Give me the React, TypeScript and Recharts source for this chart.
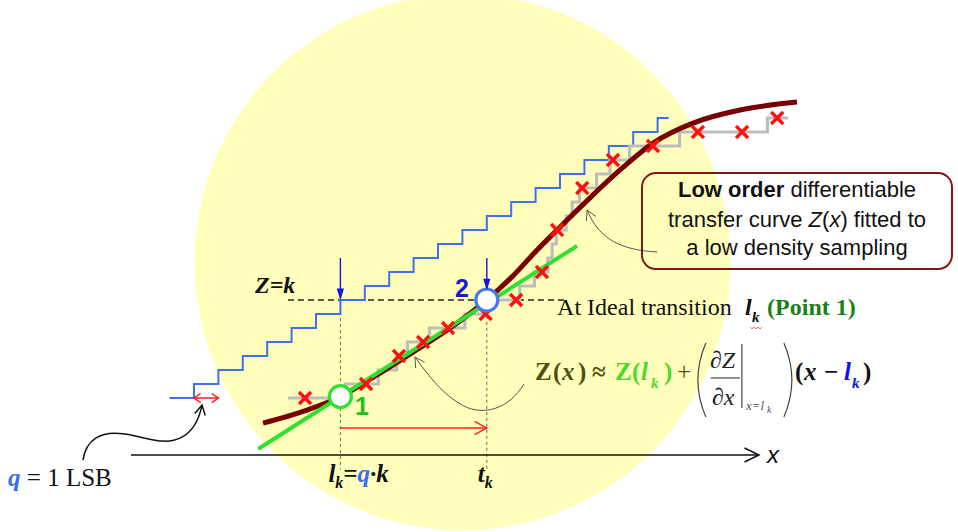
import React from "react";
import {
  ComposedChart,
  Line,
  Scatter,
  XAxis,
  YAxis,
  ReferenceLine,
  ReferenceDot,
} from "recharts";

const W = 958;
const H = 532;

// frame: x in LSB, y in output code
const X_MIN = -6.95;
const X_MAX = 32.31;
const Y_MIN = -9.57;
const Y_MAX = 28.43;

const K = 7; // code k
const L_K = 7; // ideal transition l_k = q·k
const T_K = 13; // measured transition t_k
const Z_LK = 0.1; // Z(l_k)

// ideal quantiser, code n starts at x = n
const idealX = [0, 1, 2, 3, 4, 5, 6, 7, 8, 9, 10, 11, 12, 13, 14, 15, 16, 17, 18, 19, 20, 20.45];
const idealCode = [0, 1, 2, 3, 4, 5, 6, 7, 8, 9, 10, 11, 12, 13, 14, 15, 16, 17, 18, 19, 20, 20];

// real converter transitions
const realX = [4.85, 7.2, 8.55, 9.3, 9.75, 10.65, 12.1, 13.0, 14.35, 14.95, 15.5, 15.68, 15.85, 16.25, 16.5, 16.8, 17.5, 18.05, 18.85, 20.9, 24.5, 25.35];
const realCode = [0, 1, 2, 3, 4, 5, 6, 7, 8, 9, 10, 11, 12, 13, 14, 15, 16, 17, 18, 19, 20, 20];

// low density sampling
const sampleX = [5.55, 8.05, 9.4, 10.39, 11.41, 12.95, 14.2, 15.26, 15.88, 16.91, 18.17, 19.81, 21.65, 23.46, 24.9];
const sampleCode = [0, 1, 3, 4, 5, 6, 7, 9, 12, 15, 17, 18, 19, 19, 20];

// fitted transfer curve Z(x)
const fitX = [3.83, 5.63, 7.0, 8.5, 10.0, 11.5, 13.0, 14.0, 15.06, 15.88, 17.11, 18.46, 19.81, 21.45, 23.38, 25.71];
const fitZ = [-1.79, -0.86, 0.1, 1.65, 3.3, 5.0, 7.0, 8.6, 10.57, 12.0, 14.1, 16.29, 18.21, 19.64, 20.57, 21.14];

// first order expansion at l_k
const tangentX = [3.63, 16.7];
const tangentZ = [-3.64, 10.87];

const HALO = { x: 12, y: 9.7 };

const zip = (xs: number[], ys: number[]) => xs.map((x, i) => ({ x, y: ys[i] }));

const ideal = zip(idealX, idealCode);
const real = zip(realX, realCode);
const samples = zip(sampleX, sampleCode);
const fit = zip(fitX, fitZ);
const tangent = zip(tangentX, tangentZ);

const SERIF = "'Liberation Serif', 'Times New Roman', serif";
const SANS = "'Liberation Sans', Arial, sans-serif";

const head = (tx: number, ty: number, fx: number, fy: number, len: number, spread = 0.45) => {
  const a = Math.atan2(ty - fy, tx - fx);
  const ax = tx - len * Math.cos(a - spread);
  const ay = ty - len * Math.sin(a - spread);
  const bx = tx - len * Math.cos(a + spread);
  const by = ty - len * Math.sin(a + spread);
  return `M${ax},${ay}L${tx},${ty}L${bx},${by}`;
};

const arrow =
  (color: string, width: number, len: number, opts: { both?: boolean; filled?: boolean; spread?: number } = {}) =>
  (p: any) => {
    const { x1, y1, x2, y2 } = p;
    const s = opts.spread ?? 0.45;
    return (
      <g>
        <line x1={x1} y1={y1} x2={x2} y2={y2} stroke={color} strokeWidth={width} />
        <path
          d={head(x2, y2, x1, y1, len, s) + (opts.filled ? "Z" : "")}
          fill={opts.filled ? color : "none"}
          stroke={color}
          strokeWidth={width}
        />
        {opts.both && <path d={head(x1, y1, x2, y2, len, s)} fill="none" stroke={color} strokeWidth={width} />}
      </g>
    );
  };

// curved pointer, path given relative to its start
const pointer = (d: string, tip: [number, number], from: [number, number], color: string, width: number, len: number) => (p: any) => (
  <g transform={`translate(${p.cx},${p.cy})`} fill="none" stroke={color} strokeWidth={width}>
    <path d={d} />
    <path d={head(tip[0], tip[1], from[0], from[1], len, 0.5)} />
  </g>
);

const at = (render: () => React.ReactNode) => (p: any) => (
  <g transform={`translate(${p.cx},${p.cy})`}>{render()}</g>
);

const cross = (p: any) => {
  const { cx, cy } = p;
  const s = 6;
  return (
    <path
      d={`M${cx - s},${cy - s}L${cx + s},${cy + s}M${cx - s},${cy + s}L${cx + s},${cy - s}`}
      stroke="#ff1010"
      strokeWidth={3.4}
    />
  );
};

const OLIVE = "#4f4f10";

export default function App() {
  return (
    <div style={{ position: "absolute", left: 0, top: 0 }}>
      <ComposedChart width={W} height={H} margin={{ top: 0, right: 0, bottom: 0, left: 0 }}>
        <XAxis type="number" dataKey="x" domain={[X_MIN, X_MAX]} allowDataOverflow hide />
        <YAxis type="number" dataKey="y" domain={[Y_MIN, Y_MAX]} allowDataOverflow hide />

        {/* background disc */}
        <ReferenceDot x={HALO.x} y={HALO.y} r={268} fill="#ffffbb" stroke="none" zIndex={-500} />

        {/* Z = k level and the two transitions */}
        <ReferenceLine segment={[{ x: 4.85, y: K }, { x: 16.2, y: K }]} stroke="#222" strokeWidth={1.3} strokeDasharray="6 4" zIndex={-50} />
        <ReferenceLine segment={[{ x: L_K, y: K }, { x: L_K, y: -5.1 }]} stroke="#666" strokeWidth={1} strokeDasharray="3 3" zIndex={-50} />
        <ReferenceLine segment={[{ x: T_K, y: 6.3 }, { x: T_K, y: -5.1 }]} stroke="#666" strokeWidth={1} strokeDasharray="3 3" zIndex={-50} />

        {/* x axis */}
        <ReferenceLine segment={[{ x: -1.58, y: -4.07 }, { x: 24.15, y: -4.07 }]} shape={arrow("#111", 1.5, 16, { spread: 0.45 })} zIndex={-40} />

        <Line data={ideal} dataKey="y" type="stepAfter" stroke="#3f6fee" strokeWidth={2} dot={false} activeDot={false} isAnimationActive={false} />
        <Line data={real} dataKey="y" type="stepAfter" stroke="#bdbdbd" strokeWidth={3.2} dot={false} activeDot={false} isAnimationActive={false} />
        <Line data={fit} dataKey="y" type="monotone" stroke="#780000" strokeWidth={5} dot={false} activeDot={false} isAnimationActive={false} />
        <Line data={tangent} dataKey="y" type="linear" stroke="#2fe02f" strokeWidth={4} dot={false} activeDot={false} isAnimationActive={false} />

        <Scatter data={samples} shape={cross} isAnimationActive={false} />

        {/* point 1 and point 2 */}
        <ReferenceDot x={L_K} y={Z_LK} r={11} fill="#ffffff" stroke="#2fe02f" strokeWidth={3.2} zIndex={700} />
        <ReferenceDot x={T_K} y={K} r={11} fill="#ffffff" stroke="#4a78ec" strokeWidth={3.2} zIndex={700} />

        {/* markers on the transitions */}
        <ReferenceLine segment={[{ x: L_K, y: 10 }, { x: L_K, y: 7.15 }]} shape={arrow("#1515e0", 1.4, 9, { filled: true, spread: 0.3 })} zIndex={800} />
        <ReferenceLine segment={[{ x: T_K, y: 10 }, { x: T_K, y: 7.85 }]} shape={arrow("#1515e0", 1.4, 9, { filled: true, spread: 0.3 })} zIndex={800} />
        <ReferenceLine segment={[{ x: L_K, y: -2.14 }, { x: T_K, y: -2.14 }]} shape={arrow("#ff2020", 1.4, 14, { spread: 0.5 })} zIndex={800} />
        <ReferenceLine segment={[{ x: 1, y: 0 }, { x: 2, y: 0 }]} shape={arrow("#ff2020", 1.5, 8, { both: true, spread: 0.6 })} zIndex={800} />

        {/* pointers */}
        <ReferenceDot
          x={-3.55}
          y={-4.43}
          zIndex={800}
          shape={pointer("M0,0 C3,-20 17,-30 42,-26 C67,-22 82,-14 99,-23 C112,-30 117,-45 119,-55", [119, -55], [117, -45], "#111", 1.5, 11)}
        />
        <ReferenceDot
          x={14.52}
          y={1.0}
          zIndex={800}
          shape={pointer("M0,0 C-15,25 -40,32 -60,22 C-80,12 -95,-8 -109,-27", [-109, -27], [-100, -13], "#555", 1, 11)}
        />
        <ReferenceDot
          x={19.98}
          y={10.43}
          zIndex={800}
          shape={pointer("M0,0 C-35,-2 -58,-12 -70,-42", [-70, -42], [-64, -29], "#555", 1, 11)}
        />

        {/* point labels */}
        <ReferenceDot
          x={7.6}
          y={-1.21}
          zIndex={900}
          shape={at(() => (
            <text x={0} y={0} fontFamily={SANS} fontWeight="bold" fontSize={25} fill="#22bf22">1</text>
          ))}
        />
        <ReferenceDot
          x={11.7}
          y={7.21}
          zIndex={900}
          shape={at(() => (
            <text x={0} y={0} fontFamily={SANS} fontWeight="bold" fontSize={25} fill="#1a1ad6">2</text>
          ))}
        />
        <ReferenceDot
          x={3.5}
          y={7.5}
          zIndex={900}
          shape={at(() => (
            <text x={0} y={0} fontFamily={SERIF} fontWeight="bold" fontStyle="italic" fontSize={24} fill="#111">Z=k</text>
          ))}
        />

        {/* axis labels */}
        <ReferenceDot
          x={24.48}
          y={-4.64}
          zIndex={900}
          shape={at(() => (
            <text x={0} y={0} fontFamily={SANS} fontStyle="italic" fontSize={24} fill="#111">x</text>
          ))}
        />
        <ReferenceDot
          x={L_K}
          y={-6}
          zIndex={900}
          shape={at(() => (
            <text x={-12} y={0} fontFamily={SERIF} fontWeight="bold" fontStyle="italic" fontSize={25} fill="#111">
              l<tspan fontSize={16} dy={6}>k</tspan>
              <tspan dy={-6}>=</tspan>
              <tspan fill="#3a6cf4">q</tspan>·k
            </text>
          ))}
        />
        <ReferenceDot
          x={T_K}
          y={-6}
          zIndex={900}
          shape={at(() => (
            <text x={-9} y={0} fontFamily={SERIF} fontWeight="bold" fontStyle="italic" fontSize={25} fill="#111">
              t<tspan fontSize={16} dy={6}>k</tspan>
            </text>
          ))}
        />
        <ReferenceDot
          x={-6.62}
          y={-6.29}
          zIndex={900}
          shape={at(() => (
            <text x={0} y={0} fontFamily={SERIF} fontSize={25} fill="#111">
              <tspan fontWeight="bold" fontStyle="italic" fill="#3a6cf4">q</tspan> = 1 LSB
            </text>
          ))}
        />

        {/* expansion point note */}
        <ReferenceDot
          x={15.88}
          y={5.93}
          zIndex={900}
          shape={at(() => (
            <g fontFamily={SERIF} fontSize={24}>
              <text x={0} y={0} fill="#111">At Ideal transition</text>
              <text x={188} y={0} fill="#111" fontWeight="bold" fontStyle="italic">l</text>
              <text x={195} y={7} fill="#111" fontWeight="bold" fontStyle="italic" fontSize={15}>k</text>
              <path d="M193,12 l2,2 l2,-2 l2,2 l2,-2 l2,2 l2,-2" fill="none" stroke="#ff4040" strokeWidth={0.8} />
              <text x={210} y={0} fill="#1b7f1b" fontWeight="bold">(Point 1)</text>
            </g>
          ))}
        />

        {/* Taylor expansion */}
        <ReferenceDot
          x={14.97}
          y={1.29}
          zIndex={900}
          shape={at(() => (
            <g fontFamily={SERIF}>
              <g fontSize={25} fontWeight="bold" fill={OLIVE}>
                <text x={0} y={0}>Z</text>
                <text x={18} y={0}>(</text>
                <text x={27} y={0} fontStyle="italic">x</text>
                <text x={43} y={0}>)</text>
                <text x={57} y={0}>≈</text>
              </g>
              <g fontSize={25} fontWeight="bold" fill="#4ed82a">
                <text x={80} y={0}>Z</text>
                <text x={97} y={0}>(</text>
                <text x={106} y={0} fontStyle="italic">l</text>
                <text x={116} y={8} fontStyle="italic" fontSize={15}>k</text>
                <text x={129} y={0}>)</text>
              </g>
              <text x={142} y={0} fontSize={25} fill={OLIVE}>+</text>
              <g fill="none" stroke="#444" strokeWidth={1.2}>
                <path d="M171,-37 Q155,0 171,37" />
                <path d="M249,-37 Q265,0 249,37" />
                <line x1={176} y1={-2} x2={205} y2={-2} />
                <line x1={207} y1={-36} x2={207} y2={28} />
              </g>
              <g fill="#222" fontSize={24}>
                <text x={175} y={-12}>∂<tspan fontStyle="italic">Z</tspan></text>
                <text x={177} y={25}>∂<tspan fontStyle="italic">x</tspan></text>
              </g>
              <g fill="#555" fontStyle="italic">
                <text x={211} y={30} fontSize={13}>x=l</text>
                <text x={232} y={33} fontSize={10}>k</text>
              </g>
              <g fontSize={25} fontWeight="bold" fill="#111">
                <text x={260} y={0}>(</text>
                <text x={269} y={0} fontStyle="italic">x</text>
                <text x={289} y={0}>−</text>
                <text x={309} y={0} fontStyle="italic" fill="#1010ee">l</text>
                <text x={317} y={8} fontStyle="italic" fontSize={15} fill="#1010ee">k</text>
                <text x={328} y={0}>)</text>
              </g>
            </g>
          ))}
        />

        {/* fitted curve note */}
        <ReferenceDot
          x={19.36}
          y={16.07}
          zIndex={900}
          shape={at(() => (
            <g fontFamily={SANS} fontSize={22} fill="#111">
              <rect x={0} y={0} width={310} height={96} rx={14} fill="none" stroke="#8b1414" strokeWidth={2} />
              <text x={155} y={24} textAnchor="middle">
                <tspan fontWeight="bold">Low order</tspan> differentiable
              </text>
              <text x={155} y={54} textAnchor="middle">
                transfer curve <tspan fontStyle="italic">Z</tspan>(<tspan fontStyle="italic">x</tspan>) fitted to
              </text>
              <text x={155} y={82} textAnchor="middle">a low density sampling</text>
            </g>
          ))}
        />
      </ComposedChart>
    </div>
  );
}
